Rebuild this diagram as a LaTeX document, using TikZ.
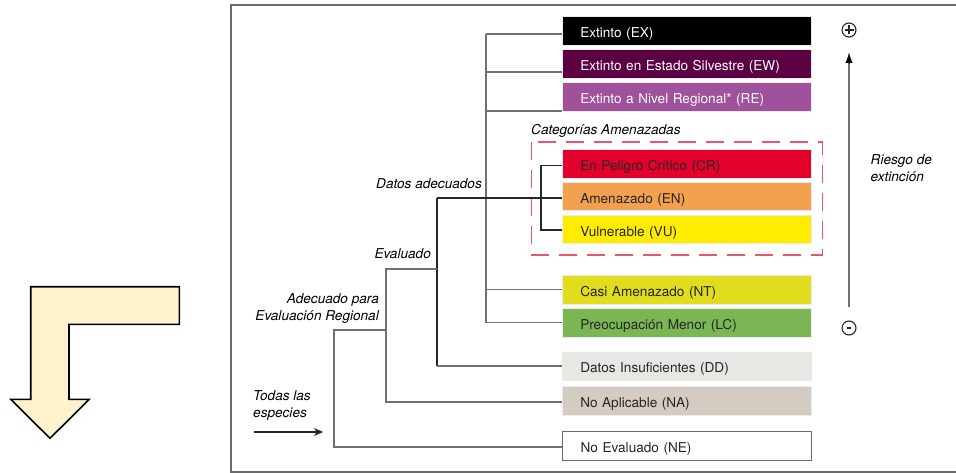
\documentclass[tikz,border=0pt]{standalone}
\usepackage{fontspec}
\setmainfont{TeX Gyre Heros}
\usetikzlibrary{arrows.meta,calc}
\definecolor{cEW}{HTML}{5C0044}
\definecolor{cRE}{HTML}{A0519C}
\definecolor{cCR}{HTML}{E3002B}
\definecolor{cEN}{HTML}{F3A04F}
\definecolor{cVU}{HTML}{FFEC00}
\definecolor{cNT}{HTML}{E1DC1E}
\definecolor{cLC}{HTML}{7AB653}
\definecolor{cDD}{HTML}{E5E8E3}
\definecolor{cNA}{HTML}{D4CBC2}
\definecolor{cArrow}{HTML}{FFF2CC}
\definecolor{cDash}{HTML}{E8566E}
\definecolor{cLine}{HTML}{707070}
\definecolor{cFrame}{HTML}{6A6A6A}
\begin{document}
\begin{tikzpicture}[x=1pt,y=-1pt,
  every node/.style={font=\fontsize{13.6}{15}\selectfont},
  catbox/.style={anchor=west,minimum width=249pt,minimum height=28.5pt,
    inner xsep=18pt,text width=213pt,align=left,draw=black!8,line width=0.5pt,
    text height=13.6pt,text depth=0pt},
  lbl/.style={font=\fontsize{13.6}{17}\itshape},
  tree/.style={draw=cLine,line width=1.3pt},
  treedark/.style={draw=black!85,line width=1.2pt}]
\useasboundingbox (0,0) rectangle (956,473);
% frame
\draw[cFrame,line width=1.5pt] (960,5) -- (231,5) -- (231,472) -- (960,472);
% category boxes
\node[catbox,fill=black,text=white] (EX) at (562,31) {Extinto (EX)};
\node[catbox,fill=cEW,text=white] (EW) at (562,64) {Extinto en Estado Silvestre (EW)};
\node[catbox,fill=cRE,text=white] (RE) at (562,97) {Extinto a Nivel Regional* (RE)};
\node[catbox,fill=cCR,text=black!85] (CR) at (562,164) {En Peligro Crítico (CR)};
\node[catbox,fill=cEN,text=black!85] (EN) at (562,196.5) {Amenazado (EN)};
\node[catbox,fill=cVU,text=black!85] (VU) at (562,229.5) {Vulnerable (VU)};
\node[catbox,fill=cNT,text=black!85] (NT) at (562,289.5) {Casi Amenazado (NT)};
\node[catbox,fill=cLC,text=black!85] (LC) at (562,322.5) {Preocupación Menor (LC)};
\node[catbox,fill=cDD,text=black!85] (DD) at (562,366) {Datos Insuficientes (DD)};
\node[catbox,fill=cNA,text=black!85] (NA) at (562,400.5) {No Aplicable (NA)};
\node[catbox,fill=white,draw=cFrame,line width=1.3pt,text=black!85] (NE) at (562,446) {No Evaluado (NE)};
% dashed threatened group
\node[lbl,anchor=west,inner sep=0pt] (cat) at (531,130.5) {Categorías Amenazadas};
\draw[cDash,line width=1.3pt,dash pattern=on 18pt off 10pt] (531.5,142) rectangle (822.5,255);
% tree coordinates
\coordinate (a1) at (486,34);
\coordinate (a2) at (486,72);
\coordinate (a3) at (486,111);
\coordinate (a4) at (486,289.5);
\coordinate (a5) at (486,322.5);
\coordinate (b1) at (437,198);
\coordinate (b2) at (437,366);
\coordinate (c1) at (541,165.5);
\coordinate (c2) at (541,230);
\coordinate (d1) at (386,269);
\coordinate (d2) at (386,402);
\coordinate (e1) at (334,330);
\coordinate (e2) at (334,447);
\coordinate (s0) at (254,432);
\coordinate (s1) at (323,432);
% Datos adecuados branch
\draw[tree] (a1) -- (a5);
\draw[tree] (a1) -- (a1 -| EX.west);
\draw[tree] (a2) -- (a2 -| EW.west);
\draw[tree] (a3) -- (a3 -| RE.west);
\draw[tree] (a4) -- (a4 -| NT.west);
\draw[tree] (a5) -- (a5 -| LC.west);
\draw[treedark] (b1) -- (b1 -| EN.west);
\draw[treedark] (c1 -| CR.west) -- (c1) -- (c2) -- (c2 -| VU.west);
\draw[treedark] (b1) -- (b2);
\draw[tree] (b2) -- (b2 -| DD.west);
% Evaluado branch
\draw[tree] (d1 -| b1) -- (d1) -- (d2) -- (d2 -| NA.west);
% Adecuado branch
\draw[tree] (e1 -| d1) -- (e1) -- (e2) -- (e2 -| NE.west);
% Todas las especies arrow
\draw[black!85,line width=1.2pt,-{Stealth[length=9pt,width=8pt]}] (s0) -- (s1);
% labels
\node[lbl,anchor=east,inner sep=0pt] (lda) at (482,183.5) {Datos adecuados};
\node[lbl,anchor=east,inner sep=0pt] (lev) at (431,253.5) {Evaluado};
\node[lbl,anchor=east,inner sep=0pt,align=right] (lad) at (379,308.5) {Adecuado para\\Evaluación Regional};
\node[lbl,anchor=west,inner sep=0pt,align=left] (lto) at (253,405.5) {Todas las\\especies};
% risk arrow
\node[circle,draw=black!85,line width=1.1pt,minimum size=14pt,inner sep=0pt] (plus) at (849,30) {};
\draw[black!85,line width=1.1pt] ($(plus.center)+(-4.5,0)$) -- ($(plus.center)+(4.5,0)$);
\draw[black!85,line width=1.1pt] (849,25.5) -- (849,34.5);
\node[circle,draw=black!85,line width=1.1pt,minimum size=14pt,inner sep=0pt] (minus) at (849,328) {};
\draw[black!85,line width=1.1pt] (846.8,328) -- (851.2,328);
\coordinate (r0) at (849,307);
\coordinate (r1) at (849,53);
\draw[cLine,line width=1.3pt] (r0) -- (849,62);
\draw[black,line width=0.1pt,-{Latex[length=10pt,width=7pt]}] (849,63) -- (r1);
\node[lbl,anchor=west,inner sep=0pt,align=left] (lri) at (870.5,168) {Riesgo de\\extinción};
% yellow L arrow
\draw[black,line width=1.6pt,fill=cArrow,line join=miter]
  (30.7,286.7) -- (179.3,286.7) -- (179.3,324.3) -- (69,324.3) -- (69,399.3)
  -- (89.3,399.3) -- (50,438.3) -- (10.7,399.3) -- (30.7,399.3) -- cycle;
\end{tikzpicture}
\end{document}
